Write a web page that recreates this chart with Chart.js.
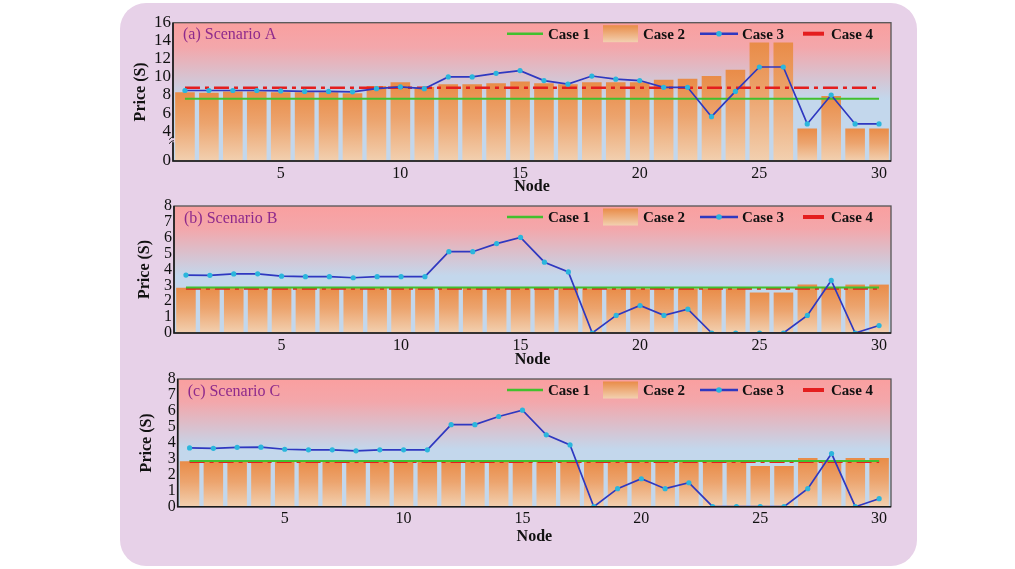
<!DOCTYPE html>
<html>
<head>
<meta charset="utf-8">
<title>Node price by scenario</title>
<script src="https://cdn.jsdelivr.net/npm/chart.js@4.4.1/dist/chart.umd.min.js"></script>
<style>
  html, body { margin: 0; padding: 0; background: #ffffff; }
  #card { position: absolute; left: 120px; top: 3px; width: 797px; height: 563px; background: #e7d1e8; border-radius: 26px; }
  canvas { position: absolute; left: 120px; }
</style>
</head>
<body>
<div id="card"></div>
<canvas id="panelA" width="797" height="196" style="top:0px"></canvas>
<canvas id="panelB" width="797" height="173" style="top:196px"></canvas>
<canvas id="panelC" width="797" height="177" style="top:369px"></canvas>
<script>
// Nodes on the x axis
const nodes = [1, 2, 3, 4, 5, 6, 7, 8, 9, 10, 11, 12, 13, 14, 15, 16, 17, 18, 19, 20, 21, 22, 23, 24, 25, 26, 27, 28, 29, 30];

// (a) Scenario A
const aCase1 = [7.6, 7.6, 7.6, 7.6, 7.6, 7.6, 7.6, 7.6, 7.6, 7.6, 7.6, 7.6, 7.6, 7.6, 7.6, 7.6, 7.6, 7.6, 7.6, 7.6, 7.6, 7.6, 7.6, 7.6, 7.6, 7.6, 7.6, 7.6, 7.6, 7.6];
const aCase2 = [8.3, 8.25, 8.4, 8.4, 8.3, 8.3, 8.3, 8.2, 9.0, 9.4, 8.9, 9.2, 9.2, 9.3, 9.5, 9.3, 9.2, 9.4, 9.4, 9.4, 9.7, 9.8, 10.1, 10.8, 13.8, 13.8, 4.3, 7.9, 4.3, 4.3];
const aCase3 = [8.5, 8.5, 8.5, 8.5, 8.45, 8.4, 8.4, 8.35, 8.7, 8.9, 8.7, 10.0, 10.0, 10.4, 10.7, 9.6, 9.2, 10.1, 9.75, 9.6, 8.85, 8.85, 5.6, 8.4, 11.1, 11.1, 4.8, 8.0, 4.8, 4.8];
const aCase4 = [8.8, 8.8, 8.8, 8.8, 8.8, 8.8, 8.8, 8.8, 8.8, 8.8, 8.8, 8.8, 8.8, 8.8, 8.8, 8.8, 8.8, 8.8, 8.8, 8.8, 8.8, 8.8, 8.8, 8.8, 8.8, 8.8, 8.8, 8.8, 8.8, 8.8];
const aYTicks = [0, 4, 6, 8, 10, 12, 14, 16];

// (b) Scenario B
const bCase1 = [2.87, 2.87, 2.87, 2.87, 2.87, 2.87, 2.87, 2.87, 2.87, 2.87, 2.87, 2.87, 2.87, 2.87, 2.87, 2.87, 2.87, 2.87, 2.87, 2.87, 2.87, 2.87, 2.87, 2.87, 2.87, 2.87, 2.87, 2.87, 2.87, 2.87];
const bCase2 = [2.85, 2.85, 2.85, 2.85, 2.85, 2.85, 2.85, 2.85, 2.85, 2.85, 2.85, 2.85, 2.85, 2.85, 2.85, 2.85, 2.85, 2.8, 2.8, 2.8, 2.8, 2.8, 2.8, 2.8, 2.55, 2.55, 3.05, 2.85, 3.05, 3.05];
const bCase3 = [3.65, 3.63, 3.72, 3.73, 3.58, 3.55, 3.55, 3.48, 3.55, 3.55, 3.55, 5.12, 5.12, 5.63, 6.02, 4.46, 3.85, 0, 1.11, 1.73, 1.11, 1.5, 0, 0, 0, 0, 1.11, 3.31, 0, 0.47];
const bCase4 = [2.81, 2.81, 2.81, 2.81, 2.81, 2.81, 2.81, 2.81, 2.81, 2.81, 2.81, 2.81, 2.81, 2.81, 2.81, 2.81, 2.81, 2.81, 2.81, 2.81, 2.81, 2.81, 2.81, 2.81, 2.81, 2.81, 2.81, 2.81, 2.81, 2.81];

// (c) Scenario C
const cCase1 = [2.87, 2.87, 2.87, 2.87, 2.87, 2.87, 2.87, 2.87, 2.87, 2.87, 2.87, 2.87, 2.87, 2.87, 2.87, 2.87, 2.87, 2.87, 2.87, 2.87, 2.87, 2.87, 2.87, 2.87, 2.87, 2.87, 2.87, 2.87, 2.87, 2.87];
const cCase2 = [2.85, 2.85, 2.85, 2.85, 2.85, 2.85, 2.85, 2.85, 2.85, 2.85, 2.85, 2.85, 2.85, 2.85, 2.85, 2.85, 2.85, 2.8, 2.8, 2.8, 2.8, 2.8, 2.8, 2.8, 2.55, 2.55, 3.05, 2.85, 3.05, 3.05];
const cCase3 = [3.68, 3.66, 3.72, 3.73, 3.6, 3.56, 3.56, 3.5, 3.56, 3.56, 3.56, 5.14, 5.14, 5.65, 6.05, 4.5, 3.87, 0, 1.13, 1.75, 1.13, 1.5, 0, 0, 0, 0, 1.13, 3.33, 0, 0.5];
const cCase4 = [2.81, 2.81, 2.81, 2.81, 2.81, 2.81, 2.81, 2.81, 2.81, 2.81, 2.81, 2.81, 2.81, 2.81, 2.81, 2.81, 2.81, 2.81, 2.81, 2.81, 2.81, 2.81, 2.81, 2.81, 2.81, 2.81, 2.81, 2.81, 2.81, 2.81];
const bcYTicks = [0, 1, 2, 3, 4, 5, 6, 7, 8];

const serif = '"Liberation Serif", "Times New Roman", serif';

// panel A has a broken axis: 0..4 is squeezed
function squeezeA(v) {
  return v >= 4 ? v - 0.7 : v * 0.825;
}
function plain(v) {
  return v;
}

// orange bar fill, darker at the top of each bar
function barFill(context) {
  const chart = context.chart;
  const area = chart.chartArea;
  if (!area || context.type !== 'data' || context.raw == null) return '#eb9a5c';
  const top = chart.scales.y.getPixelForValue(context.raw);
  const g = chart.ctx.createLinearGradient(0, top, 0, area.bottom);
  g.addColorStop(0, '#e98c48');
  g.addColorStop(0.45, '#eca46e');
  g.addColorStop(1, '#f2d0b0');
  return g;
}

const panelDecor = {
  id: 'panelDecor',
  beforeDraw(chart) {
    const { ctx, chartArea: a } = chart;
    const g = ctx.createLinearGradient(0, a.top, 0, a.bottom);
    g.addColorStop(0, '#fa9f9f');
    g.addColorStop(0.18, '#f3a7ab');
    g.addColorStop(0.55, '#c3d7ec');
    g.addColorStop(1, '#c3d7ec');
    ctx.save();
    ctx.fillStyle = g;
    ctx.fillRect(a.left, a.top, a.width, a.height);
    ctx.restore();
  },
  afterDraw(chart, args, opts) {
    const { ctx, chartArea: a } = chart;
    const ds = {};
    chart.data.datasets.forEach(d => { ds[d.label] = d; });
    ctx.save();

    // frame
    ctx.strokeStyle = '#555555';
    ctx.lineWidth = 1.3;
    ctx.strokeRect(a.left, a.top, a.width, a.height);
    ctx.strokeStyle = '#1a1a1a';
    ctx.lineWidth = 1.6;
    ctx.beginPath();
    ctx.moveTo(a.left, a.top);
    ctx.lineTo(a.left, a.bottom);
    ctx.lineTo(a.right, a.bottom);
    ctx.stroke();

    // axis break marks
    if (opts.breakAt != null) {
      const yb = chart.scales.y.getPixelForValue(opts.breakAt);
      ctx.fillStyle = '#e7d1e8';
      ctx.fillRect(a.left - 2, yb - 2, 4, 4);
      ctx.strokeStyle = '#1a1a1a';
      ctx.lineWidth = 1;
      [-2, 2].forEach(dy => {
        ctx.beginPath();
        ctx.moveTo(a.left - 4, yb + dy + 1.5);
        ctx.quadraticCurveTo(a.left - 1, yb + dy - 2, a.left + 1, yb + dy - 1.5);
        ctx.stroke();
      });
    }

    // panel title
    ctx.fillStyle = '#8e2a8c';
    ctx.font = '16px ' + serif;
    ctx.textAlign = 'left';
    ctx.textBaseline = 'middle';
    ctx.fillText(opts.title, a.left + 10, a.top + 12.5);

    // legend
    const ly = a.top + 11;
    const r = a.right;
    ctx.font = 'bold 15px ' + serif;
    ctx.fillStyle = '#111111';

    ctx.setLineDash([]);
    ctx.strokeStyle = ds['Case 1'].borderColor;
    ctx.lineWidth = 2.5;
    ctx.beginPath(); ctx.moveTo(r - 384, ly); ctx.lineTo(r - 348, ly); ctx.stroke();
    ctx.fillText(ds['Case 1'].label, r - 343, ly + 1);

    const bg = ctx.createLinearGradient(0, ly - 8.5, 0, ly + 8.5);
    bg.addColorStop(0, '#e98c48');
    bg.addColorStop(1, '#f2d0b0');
    ctx.fillStyle = bg;
    ctx.fillRect(r - 288, ly - 8.5, 35, 17);
    ctx.fillStyle = '#111111';
    ctx.fillText(ds['Case 2'].label, r - 248, ly + 1);

    ctx.strokeStyle = ds['Case 3'].borderColor;
    ctx.lineWidth = 2.5;
    ctx.beginPath(); ctx.moveTo(r - 191, ly); ctx.lineTo(r - 153, ly); ctx.stroke();
    ctx.fillStyle = ds['Case 3'].pointBackgroundColor;
    ctx.beginPath(); ctx.arc(r - 172, ly, 2.8, 0, Math.PI * 2); ctx.fill();
    ctx.fillStyle = '#111111';
    ctx.fillText(ds['Case 3'].label, r - 149, ly + 1);

    ctx.strokeStyle = ds['Case 4'].borderColor;
    ctx.lineWidth = 4;
    ctx.beginPath(); ctx.moveTo(r - 88, ly); ctx.lineTo(r - 67, ly); ctx.stroke();
    ctx.fillText(ds['Case 4'].label, r - 60, ly + 1);

    ctx.restore();
  }
};

function buildDatasets(c1, c2, c3, c4, map) {
  return [
    { type: 'bar', label: 'Case 2', data: c2.map(map), backgroundColor: barFill,
      barPercentage: 0.82, categoryPercentage: 1, order: 4 },
    { type: 'line', label: 'Case 4', data: c4.map(map), borderColor: '#e41e1e', borderWidth: 2.5,
      borderDash: [15, 5, 4, 5], pointRadius: 0, order: 3 },
    { type: 'line', label: 'Case 1', data: c1.map(map), borderColor: '#42c02e', borderWidth: 2,
      pointRadius: 0, order: 2 },
    { type: 'line', label: 'Case 3', data: c3.map(map), borderColor: '#2f38c0', borderWidth: 1.7,
      pointRadius: 2.6, pointBackgroundColor: '#2bb6dc', pointBorderWidth: 0, order: 1 }
  ];
}

function panelOptions(p) {
  return {
    responsive: false,
    animation: false,
    layout: { padding: { top: p.padTop, right: 26, bottom: 0, left: 0 } },
    plugins: {
      legend: { display: false },
      tooltip: { enabled: false },
      panelDecor: { title: p.title, breakAt: p.breakAt }
    },
    scales: {
      x: {
        grid: { display: false, drawTicks: false },
        border: { display: false },
        ticks: {
          autoSkip: false, maxRotation: 0, padding: p.xTickPad, color: '#111',
          font: { family: serif, size: 16 },
          callback: function (value, index) {
            return nodes[index] % 5 === 0 ? String(nodes[index]) : '';
          }
        },
        title: { display: true, text: 'Node', color: '#111', padding: 0,
          font: { family: serif, size: 16, weight: 'bold' } },
        afterFit: function (scale) { scale.height = p.xHeight; }
      },
      y: {
        min: 0,
        max: p.map(p.yTicks[p.yTicks.length - 1]),
        grid: { display: false, drawTicks: false },
        border: { display: false },
        afterBuildTicks: function (scale) {
          scale.ticks = p.yTicks.map(v => ({ value: p.map(v) }));
        },
        ticks: {
          autoSkip: false, padding: 2, color: '#111',
          font: { family: serif, size: p.yFont, lineHeight: 1 },
          callback: function (value, index) { return String(p.yTicks[index]); }
        },
        title: { display: true, text: 'Price (S)', color: '#111', padding: { top: p.yTitlePad, bottom: 0 },
          font: { family: serif, size: 16, weight: 'bold' } },
        afterFit: function (scale) { scale.width = p.yWidth; }
      }
    }
  };
}

new Chart(document.getElementById('panelA'), {
  type: 'bar',
  data: { labels: nodes, datasets: buildDatasets(aCase1, aCase2, aCase3, aCase4, squeezeA) },
  options: panelOptions({ title: '(a) Scenario A', breakAt: 2.3, padTop: 22.7, xHeight: 35, xTickPad: 3,
    yTicks: aYTicks, map: squeezeA, yFont: 17, yTitlePad: 11.4, yWidth: 53 }),
  plugins: [panelDecor]
});

new Chart(document.getElementById('panelB'), {
  type: 'bar',
  data: { labels: nodes, datasets: buildDatasets(bCase1, bCase2, bCase3, bCase4, plain) },
  options: panelOptions({ title: '(b) Scenario B', breakAt: null, padTop: 8, xHeight: 36, xTickPad: 3.4,
    yTicks: bcYTicks, map: plain, yFont: 16, yTitlePad: 15.4, yWidth: 54 }),
  plugins: [panelDecor]
});

new Chart(document.getElementById('panelC'), {
  type: 'bar',
  data: { labels: nodes, datasets: buildDatasets(cCase1, cCase2, cCase3, cCase4, plain) },
  options: panelOptions({ title: '(c) Scenario C', breakAt: null, padTop: 8.7, xHeight: 39.3, xTickPad: 2.7,
    yTicks: bcYTicks, map: plain, yFont: 16, yTitlePad: 17.4, yWidth: 57.7 }),
  plugins: [panelDecor]
});
</script>
</body>
</html>
